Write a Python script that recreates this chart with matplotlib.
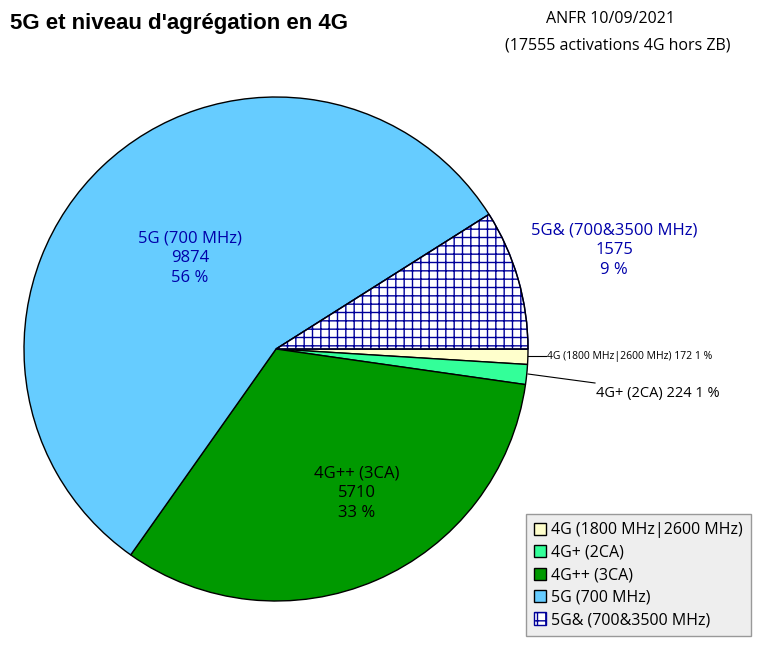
import matplotlib.pyplot as plt
import matplotlib.patches as mp

plt.rcParams['font.family'] = ['Open Sans', 'DejaVu Sans']
plt.rcParams['hatch.linewidth'] = 1.0

# Données
labels = ['4G (1800 MHz|2600 MHz)', '4G+ (2CA)', '4G++ (3CA)', '5G (700 MHz)', '5G& (700&3500 MHz)']
values = [172, 224, 5710, 9874, 1575]
pcts = ['1 %', '1 %', '33 %', '56 %', '9 %']
colors = ['#ffffcc', '#33ff99', '#009900', '#66ccff', 'white']

fig = plt.figure(figsize=(7.69, 6.5), dpi=100)
ax = fig.add_axes([0, 0, 1, 1])

wedges, _ = ax.pie(values, colors=colors, startangle=0, counterclock=False,
                   center=(276, 301), radius=252,
                   wedgeprops=dict(edgecolor='black', linewidth=1))
ax.set_xlim(0, 769)
ax.set_ylim(0, 650)
ax.set_aspect('equal')
ax.axis('off')
wedges[4].set_hatch('++')
wedges[4].set_edgecolor('#000099')
# contour noir par-dessus
ax.add_patch(mp.Wedge(wedges[4].center, wedges[4].r, wedges[4].theta1, wedges[4].theta2,
                      fill=False, edgecolor='black', linewidth=1))

# Étiquettes
blue = '#0000aa'
ax.text(190, 650 - 258, f'{labels[3]}\n{values[3]}\n{pcts[3]}', color=blue, fontsize=12,
        ha='center', va='center', linespacing=1.3)
ax.text(614, 650 - 250, f'{labels[4]}\n{values[4]}\n{pcts[4]}', color=blue, fontsize=12,
        ha='center', va='center', linespacing=1.3)
ax.text(357, 650 - 493, f'{labels[2]}\n{values[2]}\n{pcts[2]}', color='black', fontsize=12,
        ha='center', va='center', linespacing=1.3)
ax.text(547, 650 - 356, f'{labels[0]} {values[0]} {pcts[0]}', fontsize=7.5, va='center')
ax.plot([528, 546], [650 - 356, 650 - 356], color='black', lw=0.8)
ax.text(596, 650 - 393, f'{labels[1]} {values[1]} {pcts[1]}', fontsize=10.5, va='center')
ax.plot([528, 595], [650 - 374, 650 - 383], color='black', lw=0.8)

# Titres
fig.text(10 / 769, 1 - 24 / 650, "5G et niveau d'agrégation en 4G", fontsize=16, fontweight='bold',
         va='center', family=['Liberation Sans', 'DejaVu Sans'])
fig.text(610 / 769, 1 - 19 / 650, 'ANFR 10/09/2021', fontsize=11.5, ha='center', va='center')
fig.text(618 / 769, 1 - 46 / 650, '(17555 activations 4G hors ZB)', fontsize=11.5, ha='center', va='center')

# Légende
leg = ax.legend(wedges, labels, loc='lower right', bbox_to_anchor=(759 / 769, 6 / 650),
                bbox_transform=fig.transFigure, fontsize=11.5, fancybox=False,
                edgecolor='#999999', framealpha=1, handlelength=0.8, handleheight=0.8,
                handletextpad=0.3, labelspacing=0.4, borderpad=0.5)
leg.get_frame().set_facecolor('#eeeeee')

fig.savefig('out.png', dpi=100)
